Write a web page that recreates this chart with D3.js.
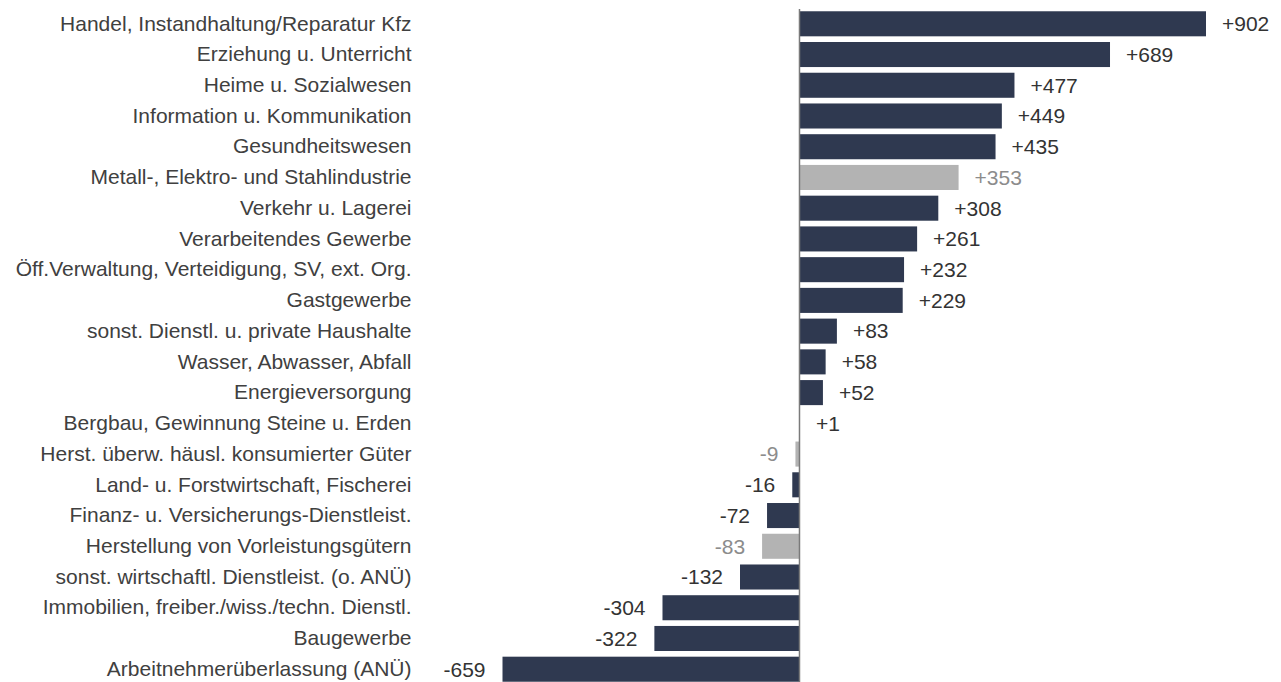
<!DOCTYPE html>
<html><head><meta charset="utf-8">
<script src="https://cdn.jsdelivr.net/npm/d3@7"></script>
<style>body{margin:0;background:#fff;}svg{display:block;font-family:"Liberation Sans",Arial,sans-serif;}</style>
</head><body>
<svg id="c" width="1281" height="682"></svg>
<script>
const categories = [
"Handel, Instandhaltung/Reparatur Kfz","Erziehung u. Unterricht","Heime u. Sozialwesen","Information u. Kommunikation","Gesundheitswesen","Metall-, Elektro- und Stahlindustrie","Verkehr u. Lagerei","Verarbeitendes Gewerbe","Öff.Verwaltung, Verteidigung, SV, ext. Org.","Gastgewerbe","sonst. Dienstl. u. private Haushalte","Wasser, Abwasser, Abfall","Energieversorgung","Bergbau, Gewinnung Steine u. Erden","Herst. überw. häusl. konsumierter Güter","Land- u. Forstwirtschaft, Fischerei","Finanz- u. Versicherungs-Dienstleist.","Herstellung von Vorleistungsgütern","sonst. wirtschaftl. Dienstleist. (o. ANÜ)","Immobilien, freiber./wiss./techn. Dienstl.","Baugewerbe","Arbeitnehmerüberlassung (ANÜ)"];
const values = [902,689,477,449,435,353,308,261,232,229,83,58,52,1,-9,-16,-72,-83,-132,-304,-322,-659];
const highlighted = [false,false,false,false,false,true,false,false,false,false,false,false,false,false,true,false,false,true,false,false,false,false];

const svg = d3.select("#c");
const x = d3.scaleLinear().domain([-659, 902]).range([502.5, 1206]);
const y = d3.scaleBand().domain(categories).range([8.5, 684.5]).paddingInner(0.185).paddingOuter(0.09);
const dark = "#2f3950", grey = "#b3b3b3";

svg.selectAll("rect.bar").data(values).join("rect")
  .attr("x", d => Math.min(x(0), x(d)))
  .attr("width", d => Math.abs(x(d) - x(0)))
  .attr("y", (d,i) => y(categories[i]))
  .attr("height", y.bandwidth())
  .attr("fill", (d,i) => highlighted[i] ? grey : dark);

svg.append("line").attr("x1", x(0)).attr("x2", x(0)).attr("y1", 9).attr("y2", 682)
  .attr("stroke", "#7a7a7a").attr("stroke-width", 1.5);

svg.selectAll("text.val").data(values).join("text")
  .attr("x", d => d >= 0 ? x(d) + 16 : x(d) - 17)
  .attr("y", (d,i) => y(categories[i]) + y.bandwidth()/2)
  .attr("dy", "0.35em")
  .attr("text-anchor", d => d >= 0 ? "start" : "end")
  .attr("font-size", 21)
  .attr("fill", (d,i) => highlighted[i] ? "#8c8c8c" : "#333333")
  .text(d => (d > 0 ? "+" : "") + d);

const yAxis = d3.axisLeft(y).tickSize(0).tickPadding(0);
const g = svg.append("g").attr("transform", "translate(411.5,0)").call(yAxis);
g.select(".domain").remove();
g.selectAll("text").attr("font-size", 21).attr("fill", "#404040").attr("font-family", '"Liberation Sans",Arial,sans-serif');
</script>
</body></html>
